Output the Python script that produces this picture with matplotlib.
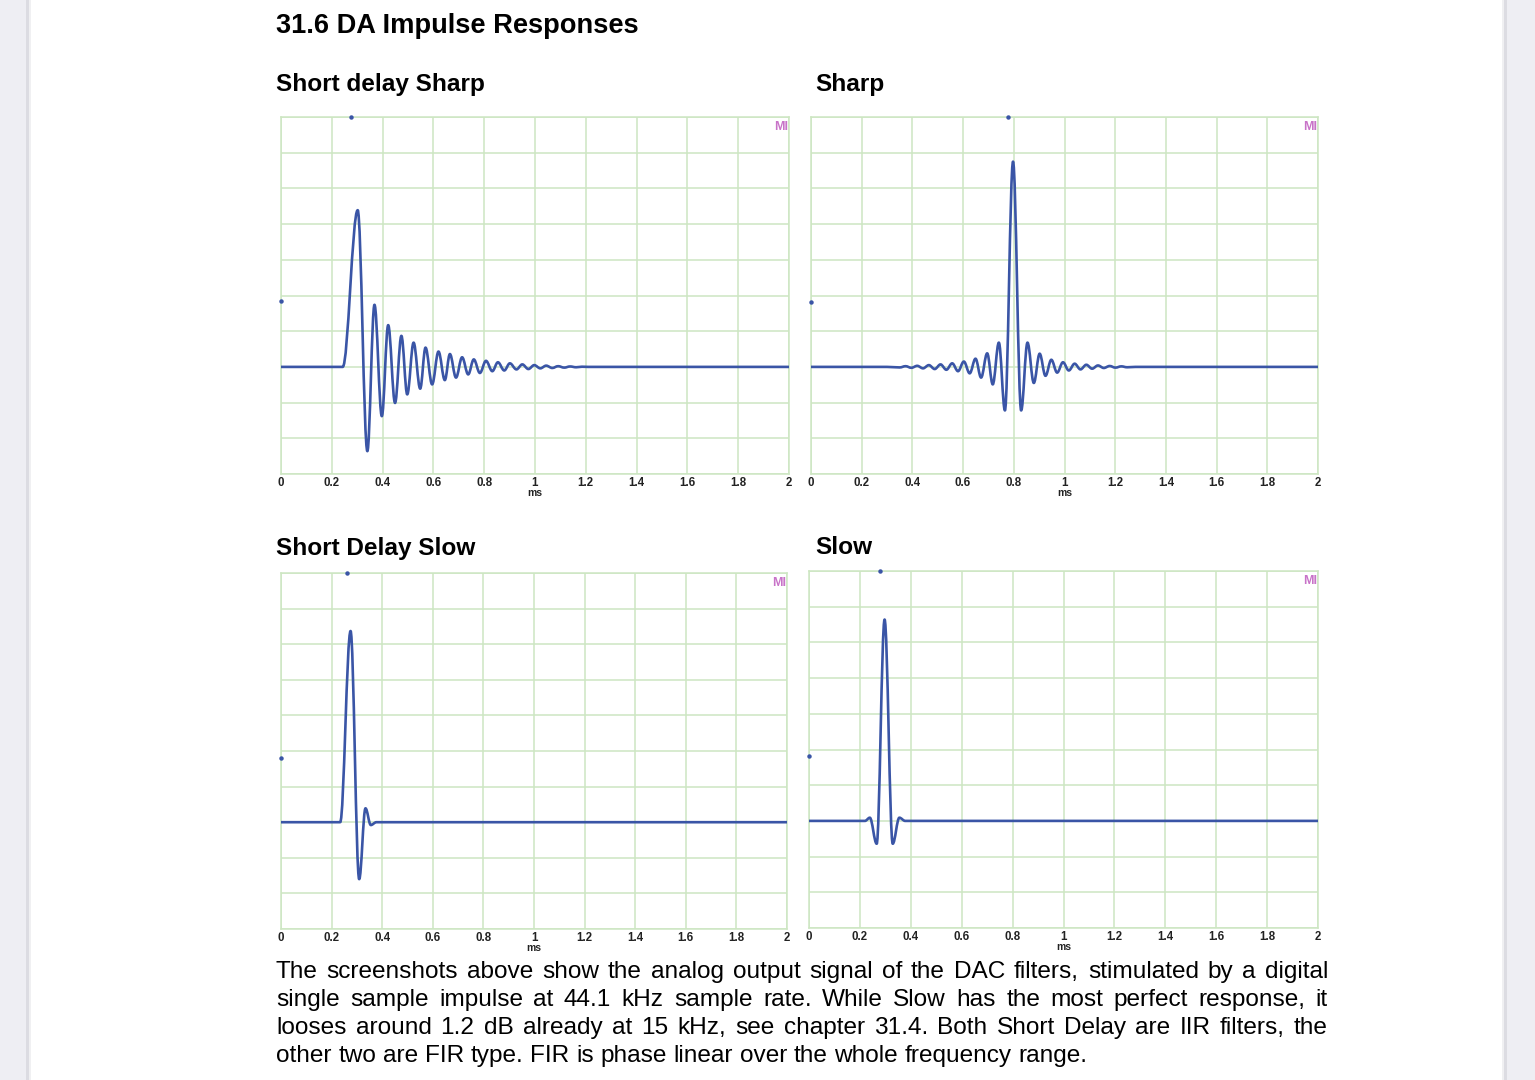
import matplotlib
matplotlib.use('Agg')
import matplotlib.pyplot as plt
from matplotlib.path import Path
from matplotlib.patches import PathPatch, Rectangle
from matplotlib.transforms import blended_transform_factory

plt.rcParams['font.family'] = ['Liberation Sans', 'DejaVu Sans']

W, H = 1535, 1080
blue = '#3a55a6'
gridc = '#cde6c2'

# extrema of each impulse response (ms, grid units)
t_sd_sharp = [0.0, 0.243, 0.302, 0.340, 0.368, 0.397, 0.422, 0.449, 0.474, 0.497, 0.522,
              0.548, 0.569, 0.595, 0.620, 0.645, 0.665, 0.689, 0.713, 0.737, 0.759, 0.783,
              0.807, 0.832, 0.854, 0.879, 0.901, 0.927, 0.950, 0.974, 0.997, 1.021, 1.044,
              1.068, 1.091, 1.115, 1.138, 1.162, 1.185, 1.21, 2.0]
a_sd_sharp = [0, 0, 4.39, -2.36, 1.74, -1.38, 1.17, -1.01, 0.87, -0.77, 0.68,
              -0.61, 0.54, -0.49, 0.43, -0.37, 0.36, -0.30, 0.27, -0.21, 0.21, -0.17,
              0.17, -0.12, 0.13, -0.10, 0.10, -0.07, 0.07, -0.06, 0.05, -0.04, 0.035,
              -0.03, 0.02, -0.02, 0.012, -0.01, 0.005, 0, 0]

t_sharp = [0.0, 0.30, 0.350, 0.373, 0.396, 0.419, 0.442, 0.465, 0.488, 0.511, 0.534, 0.557,
           0.580, 0.603, 0.626, 0.649, 0.671, 0.695, 0.717, 0.741, 0.765, 0.797, 0.829,
           0.854, 0.879, 0.902, 0.925, 0.948, 0.971, 0.994, 1.017, 1.040, 1.063, 1.086,
           1.109, 1.132, 1.155, 1.178, 1.201, 1.224, 1.247, 1.28, 2.0]
a_sharp = [0, 0, -0.015, 0.02, -0.025, 0.03, -0.04, 0.05, -0.06, 0.07, -0.08, 0.10,
           -0.12, 0.15, -0.18, 0.23, -0.30, 0.38, -0.49, 0.68, -1.22, 5.75, -1.22,
           0.68, -0.45, 0.37, -0.25, 0.20, -0.16, 0.13, -0.10, 0.09, -0.07, 0.06,
           -0.05, 0.04, -0.03, 0.025, -0.02, 0.015, -0.01, 0, 0]

t_sd_slow = [0.0, 0.234, 0.275, 0.309, 0.334, 0.355, 0.377, 2.0]
a_sd_slow = [0, 0, 5.37, -1.60, 0.39, -0.08, 0, 0]

t_slow = [0.0, 0.220, 0.239, 0.266, 0.297, 0.329, 0.355, 0.378, 2.0]
a_slow = [0, 0, 0.09, -0.64, 5.64, -0.64, 0.09, 0, 0]

# cursor dots: (top dot x in ms, left dot y in grid units)
cursors = [(0.276, 1.85), (0.777, 1.82), (0.261, 1.80), (0.279, 1.82)]

xticks = [0, 0.2, 0.4, 0.6, 0.8, 1.0, 1.2, 1.4, 1.6, 1.8, 2.0]
xlabels = ['0', '0.2', '0.4', '0.6', '0.8', '1', '1.2', '1.4', '1.6', '1.8', '2']
yticks = [-3, -2, -1, 0, 1, 2, 3, 4, 5, 6, 7]

titles = ['Short delay Sharp', 'Sharp', 'Short Delay Slow', 'Slow']
title_pos = [(276, 85), (815, 85), (276, 548), (815, 548)]
# axes boxes in pixels: left, top, right, bottom
boxes = [(281, 117, 789, 474), (811, 117, 1318, 474),
         (281, 573, 787, 929), (809, 571, 1318, 928)]
series = [(t_sd_sharp, a_sd_sharp), (t_sharp, a_sharp),
          (t_sd_slow, a_sd_slow), (t_slow, a_slow)]

paragraph = [
    "The screenshots above show the analog output signal of the DAC filters, stimulated by a digital",
    "single sample impulse at 44.1 kHz sample rate. While Slow has the most perfect response, it",
    "looses around 1.2 dB already at 15 kHz, see chapter 31.4. Both Short Delay are IIR filters, the",
    "other two are FIR type. FIR is phase linear over the whole frequency range.",
]


def curve(ax, t, a):
    # smooth curve through the extrema, drawn as bezier segments with flat tangents
    verts = [(t[0], a[0])]
    codes = [Path.MOVETO]
    for i in range(1, len(t)):
        d = (t[i] - t[i - 1]) * 0.364
        verts += [(t[i - 1] + d, a[i - 1]), (t[i] - d, a[i]), (t[i], a[i])]
        codes += [Path.CURVE4] * 3
    ax.add_patch(PathPatch(Path(verts, codes), fill=False, edgecolor=blue, lw=1.9,
                           joinstyle='round', capstyle='round', zorder=3))


fig = plt.figure(figsize=(W / 100, H / 100), dpi=100)
fig.patch.set_facecolor('white')

# grey page margins
fig.add_artist(Rectangle((0, 0), 29 / W, 1, transform=fig.transFigure, color='#eeeef3', lw=0))
fig.add_artist(Rectangle((26 / W, 0), 3 / W, 1, transform=fig.transFigure, color='#dcdce2', lw=0))
fig.add_artist(Rectangle((29 / W, 0), 2 / W, 1, transform=fig.transFigure, color='#f0f0f2', lw=0))
fig.add_artist(Rectangle((1504 / W, 0), 31 / W, 1, transform=fig.transFigure, color='#eeeef3', lw=0))
fig.add_artist(Rectangle((1504 / W, 0), 3 / W, 1, transform=fig.transFigure, color='#dcdce2', lw=0))
fig.add_artist(Rectangle((1502 / W, 0), 2 / W, 1, transform=fig.transFigure, color='#f0f0f2', lw=0))

fig.text(276 / W, 1 - 26 / H, '31.6 DA Impulse Responses', fontsize=19.6, fontweight='bold',
         va='center', ha='left')

for k in range(4):
    l, tp, r, b = boxes[k]
    ax = fig.add_axes([l / W, 1 - b / H, (r - l) / W, (b - tp) / H])
    ax.set_xlim(0, 2)
    ax.set_ylim(-3, 7)
    ax.set_xticks(xticks)
    ax.set_xticklabels(xlabels, fontweight='bold', fontsize=8.3, color='#222222')
    ax.set_yticks(yticks)
    ax.set_yticklabels([])
    ax.tick_params(length=0, pad=2)
    ax.grid(True, color=gridc, lw=1.1)
    for s in ax.spines.values():
        s.set_color(gridc)
        s.set_linewidth(1.1)
    t, a = series[k]
    curve(ax, t, a)
    cx, cy = cursors[k]
    ax.plot([cx], [7], 'o', ms=2.2, color=blue, clip_on=False, zorder=4)
    ax.plot([0], [cy], 'o', ms=2.2, color=blue, clip_on=False, zorder=4)
    tr = blended_transform_factory(ax.transData, ax.transAxes)
    ax.text(1.0, -0.054, 'ms', transform=tr, ha='center', va='center', fontsize=7.5,
            fontweight='bold', color='#222222')
    ax.text(0.999, 0.99, 'MI', transform=ax.transAxes, ha='right', va='top', fontsize=9,
            fontweight='bold', color='#c873c8')
    tx, ty = title_pos[k]
    fig.text(tx / W, 1 - ty / H, titles[k], fontsize=17.6, fontweight='bold',
             va='center', ha='left')

# justified paragraph
renderer = fig.canvas.get_renderer()
fs = 17.6
x0, x1 = 276, 1328
for i, line in enumerate(paragraph):
    y = 1 - (978 + 28 * i) / H
    words = line.split()
    objs = [fig.text(0, y, w, fontsize=fs, va='baseline', ha='left') for w in words]
    widths = [o.get_window_extent(renderer).width for o in objs]
    if i < len(paragraph) - 1:
        gap = (x1 - x0 - sum(widths)) / (len(words) - 1)
    else:
        sp = fig.text(0, 0, 'a a', fontsize=fs)
        sp2 = fig.text(0, 0, 'aa', fontsize=fs)
        gap = sp.get_window_extent(renderer).width - sp2.get_window_extent(renderer).width
        sp.remove()
        sp2.remove()
    x = x0
    for o, w in zip(objs, widths):
        o.set_x(x / W)
        x += w + gap

fig.savefig('out.png', dpi=100)
